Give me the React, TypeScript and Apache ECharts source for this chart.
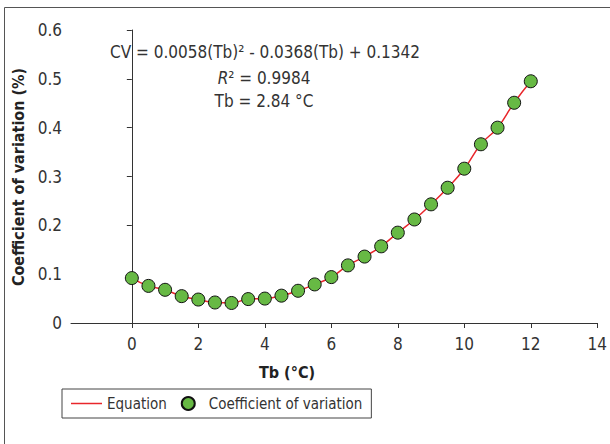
import React, { useEffect, useRef } from "react";
import * as echarts from "echarts";

const tb = [0, 0.5, 1, 1.5, 2, 2.5, 3, 3.5, 4, 4.5, 5, 5.5, 6, 6.5, 7, 7.5, 8, 8.5, 9, 9.5, 10, 10.5, 11, 11.5, 12];
const cv = [0.092, 0.076, 0.068, 0.055, 0.048, 0.042, 0.041, 0.049, 0.05, 0.056, 0.066, 0.079, 0.094, 0.118, 0.136, 0.157, 0.185, 0.212, 0.243, 0.277, 0.316, 0.366, 0.4, 0.451, 0.495];
const xTicks = [0, 2, 4, 6, 8, 10, 12, 14];

const FONT = '"Liberation Sans Narrow", "DejaVu Sans Condensed", "Roboto", sans-serif';

export default function App() {
  const ref = useRef<HTMLDivElement>(null);
  useEffect(() => {
    document.body.style.margin = "0";
    const chart = echarts.init(ref.current!, null, { renderer: "svg" });
    const pts = tb.map((x, i) => [x, cv[i]]);
    chart.setOption({
      animation: false,
      backgroundColor: "#fff",
      textStyle: { fontFamily: FONT },
      grid: { left: 71, right: 12, top: 30, bottom: 121 },
      xAxis: {
        type: "value",
        min: -1.83,
        max: 14,
        splitLine: { show: false },
        axisLine: { lineStyle: { color: "#333", width: 1 } },
        axisTick: { customValues: xTicks, length: 5, lineStyle: { color: "#333" } },
        axisLabel: { customValues: xTicks, fontSize: 17, color: "#333", margin: 12, fontFamily: FONT },
      },
      yAxis: {
        type: "value",
        min: 0,
        max: 0.6,
        interval: 0.1,
        splitLine: { show: false },
        axisLine: { show: true, lineStyle: { color: "#333", width: 1 } },
        axisTick: { show: true, length: 5, lineStyle: { color: "#333" } },
        axisLabel: {
          fontSize: 17,
          color: "#333",
          margin: 9,
          fontFamily: FONT,
          formatter: (v: number) => (v === 0 ? "0" : v.toFixed(1)),
        },
      },
      legend: {
        left: 62,
        top: 389,
        orient: "horizontal",
        padding: [7, 9, 7, 9],
        borderColor: "#444",
        borderWidth: 1,
        itemGap: 14,
        itemWidth: 31,
        itemHeight: 13,
        textStyle: { fontSize: 15, color: "#333", fontFamily: FONT },
        data: [
          { name: "Equation", icon: "path://M0,0 L31,0 L31,1.5 L0,1.5 Z", itemStyle: { color: "#e8262b" } },
          { name: "Coefficient of variation", icon: "circle" },
        ],
      },
      graphic: [
        {
          type: "rect",
          shape: { x: 4.5, y: 7.5, width: 640, height: 460 },
          style: { fill: "none", stroke: "#555", lineWidth: 1 },
          silent: true,
        },
        {
          type: "text",
          left: 110,
          top: 43,
          style: { text: "CV = 0.0058(Tb)² - 0.0368(Tb) + 0.1342", font: `17px ${FONT}`, fill: "#333" },
        },
        {
          type: "text",
          x: 264,
          y: 78,
          style: {
            text: "{i|R}² = 0.9984",
            font: `17px ${FONT}`,
            fill: "#333",
            align: "center",
            verticalAlign: "middle",
            rich: { i: { fontStyle: "italic", fontSize: 17, fontFamily: FONT, fill: "#333" } },
          },
        },
        {
          type: "text",
          x: 264,
          y: 101,
          style: { text: "Tb = 2.84 °C", font: `17px ${FONT}`, fill: "#333", align: "center", verticalAlign: "middle" },
        },
        {
          type: "text",
          x: 287,
          y: 372,
          style: { text: "Tb (°C)", font: `bold 16px ${FONT}`, fill: "#222", align: "center", verticalAlign: "middle" },
        },
        {
          type: "text",
          x: 18,
          y: 177,
          rotation: Math.PI / 2,
          style: {
            text: "Coefficient of variation (%)",
            font: `bold 16px ${FONT}`,
            fill: "#222",
            align: "center",
            verticalAlign: "middle",
          },
        },
      ],
      series: [
        {
          name: "Equation",
          type: "line",
          data: pts,
          smooth: true,
          symbol: "none",
          lineStyle: { color: "#e8262b", width: 1.5 },
          itemStyle: { color: "#e8262b" },
          z: 2,
        },
        {
          name: "Coefficient of variation",
          type: "scatter",
          data: pts,
          symbol: "circle",
          symbolSize: 13,
          itemStyle: { color: "#67b944", borderColor: "#111", borderWidth: 1, opacity: 1 },
          z: 3,
        },
      ],
    });
    return () => chart.dispose();
  }, []);
  return <div ref={ref} style={{ width: 610, height: 444 }} />;
}
